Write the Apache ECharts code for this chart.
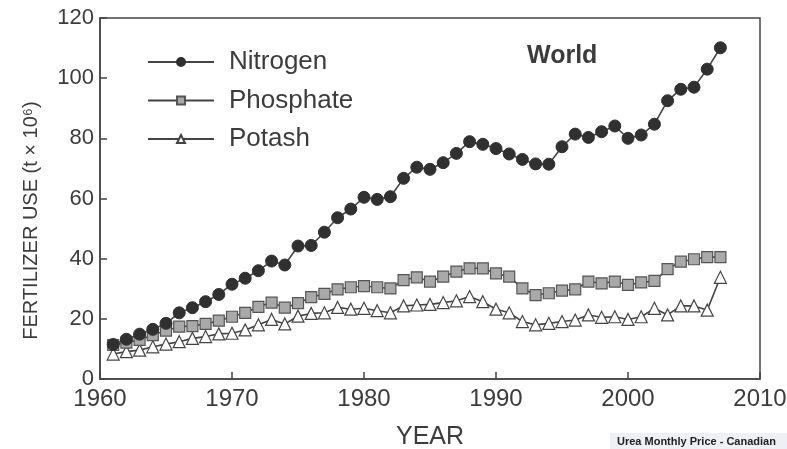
<!DOCTYPE html>
<html>
<head>
<meta charset="utf-8">
<script src="https://cdn.jsdelivr.net/npm/echarts@6/dist/echarts.min.js"></script>
<style>
html,body{margin:0;padding:0;background:#fff;}
#chart{width:787px;height:449px;}
</style>
</head>
<body>
<div id="chart"></div>
<script>
const years = [1961,1962,1963,1964,1965,1966,1967,1968,1969,1970,1971,1972,1973,1974,1975,1976,1977,1978,1979,1980,1981,1982,1983,1984,1985,1986,1987,1988,1989,1990,1991,1992,1993,1994,1995,1996,1997,1998,1999,2000,2001,2002,2003,2004,2005,2006,2007];
const nitrogen = [11.5,13.2,14.9,16.5,18.5,22.0,23.7,25.7,28.1,31.5,33.5,36.0,39.2,37.9,44.2,44.4,48.8,53.6,56.5,60.4,59.7,60.6,66.7,70.4,69.7,71.9,75.0,78.9,78.0,76.6,74.8,73.0,71.5,71.4,77.2,81.4,80.3,82.2,84.1,80.0,81.1,84.7,92.5,96.3,97.0,103.0,110.1];
const phosphate = [11.3,12.1,13.0,14.6,16.1,17.4,17.6,18.3,19.4,20.7,22.0,24.0,25.4,23.7,25.2,27.2,28.3,29.8,30.5,30.9,30.5,30.1,32.9,33.8,32.4,34.0,35.7,36.8,36.8,35.1,34.0,30.1,27.9,28.5,29.4,29.8,32.4,31.8,32.4,31.3,32.1,32.6,36.5,39.0,39.8,40.5,40.5];
const potash = [8.3,9.1,9.6,10.7,11.6,12.4,13.5,14.1,15.0,15.2,16.3,18.0,19.8,18.3,20.9,21.8,22.0,23.8,23.2,23.5,22.7,22.0,24.3,24.6,24.8,25.4,26.0,27.4,25.7,23.2,22.0,19.1,18.0,18.5,19.1,19.6,21.3,20.5,20.7,19.8,20.7,23.5,21.3,24.3,24.3,22.9,33.8];
const xTicks = [1960, 2010, 10];
const yTicks = [0, 120, 20];
const seriesNames = ['Nitrogen','Phosphate','Potash'];

const pairs = arr => years.map((y,i)=>[y,arr[i]]);
const ink = '#3c3c3c';
const font = 'Liberation Sans';
const lineStyle = {color:'#444', width:1.6};

const chart = echarts.init(document.getElementById('chart'), null, {renderer:'canvas'});
chart.setOption({
  animation:false,
  backgroundColor:'#fff',
  grid:{left:100, right:27, top:18, bottom:70, show:true, borderColor:'#444', borderWidth:1.5, containLabel:false, outerBoundsMode:'none'},
  title:{text:'World', left:527, top:44, padding:0, textStyle:{fontFamily:font, fontSize:25, fontWeight:'bold', color:ink}},
  legend:{
    orient:'vertical', left:147, top:49, padding:0, itemWidth:66, itemHeight:10, itemGap:12.5,
    data:seriesNames,
    textStyle:{fontFamily:font, fontSize:26, color:ink, padding:[0,0,0,10], lineHeight:26}
  },
  xAxis:{
    type:'value', min:xTicks[0], max:xTicks[1], interval:xTicks[2],
    name:'YEAR', nameLocation:'middle', nameGap:46,
    nameTextStyle:{fontFamily:font, fontSize:25, color:ink},
    axisLine:{lineStyle:{color:'#444', width:1.5}},
    axisTick:{inside:true, length:7, lineStyle:{color:'#444', width:1.5}},
    axisLabel:{fontFamily:font, fontSize:24, color:ink, margin:8, formatter:v=>String(v)},
    splitLine:{show:false}
  },
  yAxis:{
    type:'value', min:yTicks[0], max:yTicks[1], interval:yTicks[2],
    name:'FERTILIZER USE (t \u00d7 10\u2076)', nameLocation:'middle', nameGap:59, nameRotate:90,
    nameTextStyle:{fontFamily:font, fontSize:20, color:ink, padding:[0,44,0,0]},
    axisLine:{lineStyle:{color:'#444', width:1.5}},
    axisTick:{inside:true, length:7, lineStyle:{color:'#444', width:1.5}},
    axisLabel:{fontFamily:font, fontSize:22, color:ink, margin:6},
    splitLine:{show:false}
  },
  series:[
    {name:seriesNames[0], type:'line', data:pairs(nitrogen), symbol:'circle', symbolSize:12,
     lineStyle:lineStyle, itemStyle:{color:'#303030', borderColor:'#303030', borderWidth:1}, z:4},
    {name:seriesNames[1], type:'line', data:pairs(phosphate), symbol:'rect', symbolSize:11,
     lineStyle:lineStyle, itemStyle:{color:'#a9a9a9', borderColor:'#555', borderWidth:1.2}, z:3},
    {name:seriesNames[2], type:'line', data:pairs(potash), symbol:'triangle', symbolSize:12,
     lineStyle:lineStyle, itemStyle:{color:'#fff', borderColor:'#444', borderWidth:1.2}, z:2}
  ],
  graphic:[
    {type:'rect', left:610, top:433, shape:{width:177, height:16}, style:{fill:'#eef0f6'}},
    {type:'text', left:617, top:436, style:{text:'Urea Monthly Price - Canadian', font:'bold 11px "Liberation Sans"', fill:'#222'}}
  ]
});
</script>
</body>
</html>
